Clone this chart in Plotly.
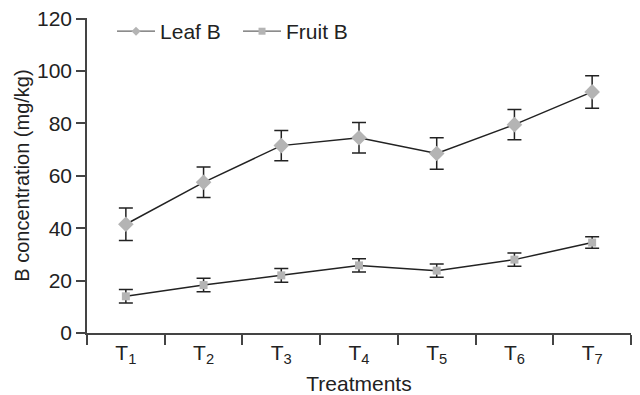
import plotly.graph_objects as go

categories = ["T<sub>1</sub>", "T<sub>2</sub>", "T<sub>3</sub>", "T<sub>4</sub>",
              "T<sub>5</sub>", "T<sub>6</sub>", "T<sub>7</sub>"]
leaf_b = [41.5, 57.5, 71.5, 74.5, 68.5, 79.5, 92.0]
leaf_err = [6.2, 5.8, 5.8, 5.8, 6.0, 5.8, 6.2]
fruit_b = [14.0, 18.3, 22.0, 25.8, 23.8, 28.0, 34.5]
fruit_err = [2.6, 2.6, 2.6, 2.5, 2.5, 2.5, 2.2]
y_ticks = [0, 20, 40, 60, 80, 100, 120]

font = "Liberation Sans, Arial, sans-serif"
line_col = "#222222"
mark_col = "#b4b4b4"

fig = go.Figure()
fig.add_trace(go.Scatter(
    x=categories, y=leaf_b, name="Leaf B", mode="lines+markers", showlegend=False,
    line=dict(color=line_col, width=1.5),
    marker=dict(symbol="diamond", size=12, color=mark_col),
    error_y=dict(type="data", array=leaf_err, color=line_col, thickness=1.5, width=7),
))
fig.add_trace(go.Scatter(
    x=categories, y=fruit_b, name="Fruit B", mode="lines+markers", showlegend=False,
    line=dict(color=line_col, width=1.5),
    marker=dict(symbol="square", size=8, color=mark_col),
    error_y=dict(type="data", array=fruit_err, color=line_col, thickness=1.5, width=7),
))
# legend entries (smaller symbols, as in the reference legend)
fig.add_trace(go.Scatter(
    x=[None], y=[None], name="Leaf B", mode="lines+markers",
    line=dict(color="#666666", width=1.2),
    marker=dict(symbol="diamond", size=7, color=mark_col),
))
fig.add_trace(go.Scatter(
    x=[None], y=[None], name="Fruit B", mode="lines+markers",
    line=dict(color="#666666", width=1.2),
    marker=dict(symbol="square", size=7, color=mark_col),
))

fig.update_layout(
    width=632, height=387,
    margin=dict(l=79, r=9, t=10, b=62, autoexpand=False),
    paper_bgcolor="white", plot_bgcolor="white",
    font=dict(family=font, size=20, color="#222222"),
    showlegend=True,
    legend=dict(orientation="h", x=0.046, y=1.022, xanchor="left", yanchor="top",
                font=dict(size=21), bgcolor="rgba(0,0,0,0)", itemwidth=38,
                entrywidth=73, entrywidthmode="pixels"),
    xaxis=dict(
        range=[-0.5, 6.5], tickson="boundaries", ticks="outside", ticklen=10,
        tickwidth=1.5, tickcolor="#444444", showline=True, linecolor="#444444",
        linewidth=1.5, showgrid=False, zeroline=False, automargin=False,
        title=dict(text="Treatments", standoff=10, font=dict(size=21)),
        tickfont=dict(size=21), ticklabeloverflow="allow",
    ),
    yaxis=dict(
        range=[0, 120.2], tickvals=y_ticks, ticks="outside", ticklen=9,
        tickwidth=1.5, tickcolor="#444444", showline=True, linecolor="#444444",
        linewidth=1.5, showgrid=False, zeroline=False, automargin=False,
        title=dict(text="B concentration (mg/kg)", standoff=2, font=dict(size=20)),
        tickfont=dict(size=21), ticklabeloverflow="allow",
    ),
)

fig.write_html("out.html")
